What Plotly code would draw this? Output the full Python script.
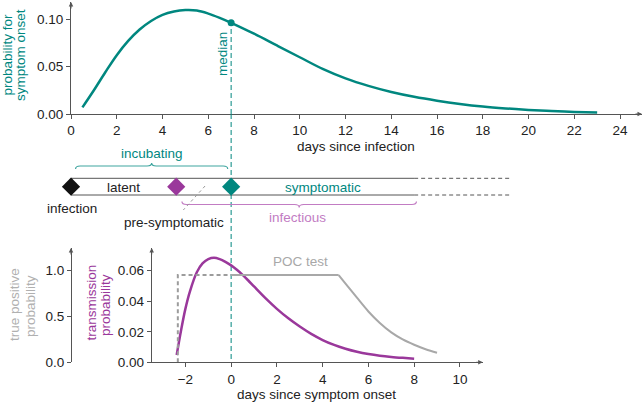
import plotly.graph_objects as go

# ---------------- data ----------------
# top panel: probability of symptom onset vs days since infection
onset_days = [0.5, 1, 1.5, 2, 2.5, 3, 3.5, 4, 4.5, 5, 5.5, 6, 6.5, 7, 8, 9, 10, 11, 12,
              13, 14, 15, 16, 17, 18, 19, 20, 21, 22, 23]
onset_prob = [0.007, 0.025, 0.044, 0.062, 0.077, 0.089, 0.098, 0.1045, 0.108, 0.1095,
              0.109, 0.1058, 0.1013, 0.0961, 0.0846, 0.0722, 0.0598, 0.0475, 0.0375,
              0.0296, 0.0232, 0.0181, 0.0140, 0.0106, 0.0079, 0.0059, 0.0043, 0.0031,
              0.0022, 0.0015]
median_day = 7.0
median_prob = 0.0961

# middle timeline (days since infection)
event_names = ["infection", "infectious", "symptom onset"]
event_days = [0.0, 4.6, 7.0]
timeline_solid_end = 15.0
timeline_dash_end = 19.2
incubating_span = [0.2, 6.85]
infectious_span = [4.85, 15.1]

# bottom panel: days since symptom onset
trans_days = [-2.38, -2.2, -2.0, -1.8, -1.5, -1.25, -1.0, -0.75, -0.5, -0.25, 0, 0.25,
              0.5, 0.75, 1, 1.5, 2, 2.5, 3, 3.5, 4, 4.5, 5, 5.5, 6, 6.5, 7, 7.5, 8]
trans_prob = [0.0048, 0.020, 0.035, 0.0465, 0.059, 0.0648, 0.0676, 0.0685, 0.0676,
              0.0658, 0.0635, 0.0606, 0.0573, 0.0536, 0.0497, 0.0420, 0.0350, 0.0288,
              0.0234, 0.0186, 0.0146, 0.0114, 0.0089, 0.0069, 0.0054, 0.0043, 0.0035,
              0.0029, 0.0024]

poc_dash_days = [-2.33, -2.33, 0.0]
poc_dash_tp = [0.0, 0.953, 0.953]
poc_plateau_days = [0.0, 4.7]
poc_plateau_tp = [0.953, 0.953]
poc_decay_days = [4.7, 5.0, 5.5, 6.0, 6.5, 7.0, 7.5, 8.0, 8.5, 9.0]
poc_decay_tp = [0.953, 0.86, 0.705, 0.555, 0.43, 0.327, 0.25, 0.192, 0.143, 0.105]

top_xticks = list(range(0, 25, 2))
top_yticks = [0.0, 0.05, 0.10]
bot_xticks = [-2, 0, 2, 4, 6, 8, 10]
trans_yticks = [0.0, 0.02, 0.04, 0.06]
tp_yticks = [0.0, 0.5, 1.0]

# ---------------- style ----------------
W, H = 643, 402
TEAL = "#00877f"
TEAL_LIGHT = "#3fa59f"
PURPLE = "#9a389b"
PURPLE_LIGHT = "#c27cc3"
GRAY = "#a8a8a8"
GRAY_TXT = "#b0b0b0"
AX = "#555555"
TXT = "#222222"
FONT = "Liberation Sans, Arial, sans-serif"
FS = 13.5


def px(x):
    return x / W


def py(y):
    return 1 - y / H


fig = go.Figure()

# top curve
fig.add_trace(go.Scatter(x=onset_days, y=onset_prob, mode="lines", line_shape="spline",
                         line=dict(color=TEAL, width=2.5), xaxis="x", yaxis="y",
                         hoverinfo="skip"))
# median dashed segment from axis to the dot, and dot
fig.add_trace(go.Scatter(x=[median_day, median_day], y=[0, median_prob], mode="lines",
                         line=dict(color=TEAL, width=1, dash="5px,3px"),
                         xaxis="x", yaxis="y", hoverinfo="skip"))
fig.add_trace(go.Scatter(x=[median_day], y=[median_prob], mode="markers",
                         marker=dict(color=TEAL, size=7), xaxis="x", yaxis="y",
                         cliponaxis=False, hoverinfo="skip"))

# timeline diamonds (middle band, y4 in pixel units)
TL_Y = 186.7
fig.add_trace(go.Scatter(x=event_days, y=[TL_Y] * len(event_days), mode="markers",
                         marker=dict(symbol="diamond", size=14,
                                     color=["#111111", PURPLE, TEAL]),
                         xaxis="x", yaxis="y4", cliponaxis=False, hoverinfo="skip"))

# bottom: POC test (true positive axis y3)
fig.add_trace(go.Scatter(x=poc_dash_days, y=poc_dash_tp, mode="lines",
                         line=dict(color="#9c9c9c", width=2, dash="4px,3px"),
                         xaxis="x2", yaxis="y3", cliponaxis=False, hoverinfo="skip"))
fig.add_trace(go.Scatter(x=poc_plateau_days, y=poc_plateau_tp, mode="lines",
                         line=dict(color=GRAY, width=2), xaxis="x2", yaxis="y3",
                         hoverinfo="skip"))
fig.add_trace(go.Scatter(x=poc_decay_days, y=poc_decay_tp, mode="lines",
                         line_shape="spline", line=dict(color=GRAY, width=2),
                         xaxis="x2", yaxis="y3", hoverinfo="skip"))
# transmission probability
fig.add_trace(go.Scatter(x=trans_days, y=trans_prob, mode="lines", line_shape="spline",
                         line=dict(color=PURPLE, width=2.5), xaxis="x2", yaxis="y2",
                         hoverinfo="skip"))

shapes = []
# median dashed line through the middle band down to the bottom axis
shapes.append(dict(type="line", xref="x", yref="y4", x0=median_day, x1=median_day,
                   y0=114, y1=362.3, line=dict(color=TEAL, width=1, dash="5px,3px"),
                   layer="below"))
# timeline rails
for yy in (178.3, 195.0):
    shapes.append(dict(type="line", xref="x", yref="y4", x0=event_days[0],
                       x1=timeline_solid_end, y0=yy, y1=yy,
                       line=dict(color=AX, width=1), layer="below"))
    shapes.append(dict(type="line", xref="x", yref="y4", x0=timeline_solid_end,
                       x1=timeline_dash_end, y0=yy, y1=yy,
                       line=dict(color=AX, width=1, dash="4px,3px"), layer="below"))


def brace(span, y, d, color):
    a, b = span
    m = (a + b) / 2
    e = 0.2
    p = (f"M {a},{y + d} Q {a},{y} {a + e},{y} L {m - e},{y} Q {m},{y} {m},{y - d} "
         f"Q {m},{y} {m + e},{y} L {b - e},{y} Q {b},{y} {b},{y + d}")
    return dict(type="path", xref="x", yref="y4", path=p,
                line=dict(color=color, width=1.2))


shapes.append(brace(incubating_span, 166.0, 3.0, TEAL_LIGHT))
shapes.append(brace(infectious_span, 204.5, -3.0, PURPLE_LIGHT))
# pointer for pre-symptomatic
shapes.append(dict(type="line", xref="x", yref="y4", x0=5.86, x1=4.91, y0=186, y1=210,
                   line=dict(color="#999999", width=1, dash="dot")))

annotations = []


def label(text, x, y, color=TXT, angle=0):
    annotations.append(dict(text=text, x=px(x), y=py(y), xref="paper", yref="paper",
                            showarrow=False, textangle=angle, xanchor="center",
                            yanchor="middle", font=dict(color=color, size=FS, family=FONT)))


def arrow(x, y, dx, dy):
    annotations.append(dict(text="", x=px(x), y=py(y), xref="paper", yref="paper",
                            ax=dx, ay=dy, axref="pixel", ayref="pixel", showarrow=True,
                            arrowhead=2, arrowsize=0.9, arrowwidth=1, arrowcolor=AX,
                            standoff=0, startstandoff=0))


label("probability for", 7.5, 55, TEAL, -90)
label("symptom onset", 21, 55, TEAL, -90)
label("median", 223, 54, TEAL, -90)
label("days since infection", 356, 146)
label("incubating", 152, 154, TEAL)
label("latent", 124, 187)
label("symptomatic", 323, 187, TEAL)
label("infection", 72, 208)
label("pre-symptomatic", 174, 222)
label("infectious", 297, 217, PURPLE_LIGHT)
label("POC test", 300, 261, GRAY)
label("transmission", 90.5, 303, PURPLE, -90)
label("probability", 105, 305, PURPLE, -90)
label("true positive", 14, 305, GRAY_TXT, -90)
label("probability", 30, 306, GRAY_TXT, -90)
label("days since symptom onset", 316, 394)

arrow(642, 114, -8, 0)
arrow(71, 2, 0, 8)
arrow(482.7, 362.3, -8, 0)
arrow(151.7, 248, 0, 8)
arrow(71, 248, 0, 8)

axis_common = dict(showgrid=False, zeroline=False, showline=True, linecolor=AX,
                   linewidth=1, ticks="outside", ticklen=4, tickcolor=AX,
                   tickfont=dict(size=FS, color=TXT, family=FONT), fixedrange=True,
                   automargin=False)

TOP_XMAX = 24.96
PXU = (642 - 71) / TOP_XMAX
b_left = -(71 + PXU * median_day - 151.7) / PXU
b_right = b_left + (482.7 - 151.7) / PXU

fig.update_layout(
    width=W, height=H, autosize=False,
    margin=dict(l=0, r=0, t=0, b=0, pad=0, autoexpand=False),
    paper_bgcolor="white", plot_bgcolor="rgba(0,0,0,0)",
    showlegend=False,
    font=dict(family=FONT, size=FS, color=TXT),
    xaxis=dict(domain=[px(71), px(642)], range=[0, TOP_XMAX], anchor="y",
               tickvals=top_xticks, **axis_common),
    yaxis=dict(domain=[py(114), py(2)], range=[0, 0.118], anchor="x",
               tickvals=top_yticks, tickformat=".2f", **axis_common),
    xaxis2=dict(domain=[px(151.7), px(482.7)], range=[b_left, b_right], anchor="y2",
                tickvals=bot_xticks, **axis_common),
    yaxis2=dict(domain=[py(362.3), py(248)], range=[0, 0.0749], anchor="x2",
                tickvals=trans_yticks, tickformat=".2f", **axis_common),
    yaxis3=dict(overlaying="y2", anchor="free", position=px(71), side="left",
                range=[0, 1.248], tickvals=tp_yticks, tickformat=".1f", **axis_common),
    yaxis4=dict(domain=[0, 1], range=[H, 0], anchor="x", visible=False, fixedrange=True),
    shapes=shapes,
    annotations=annotations,
)

page_css = ("var h=document.documentElement.style;h.margin='0';h.padding='0';"
            "h.overflow='hidden';h.height='402px';"
            "var b=document.body.style;b.margin='0';b.padding='0';"
            "b.overflow='hidden';b.height='402px';")
fig.write_html("out.html", config={"displayModeBar": False, "staticPlot": True},
               post_script=page_css)
